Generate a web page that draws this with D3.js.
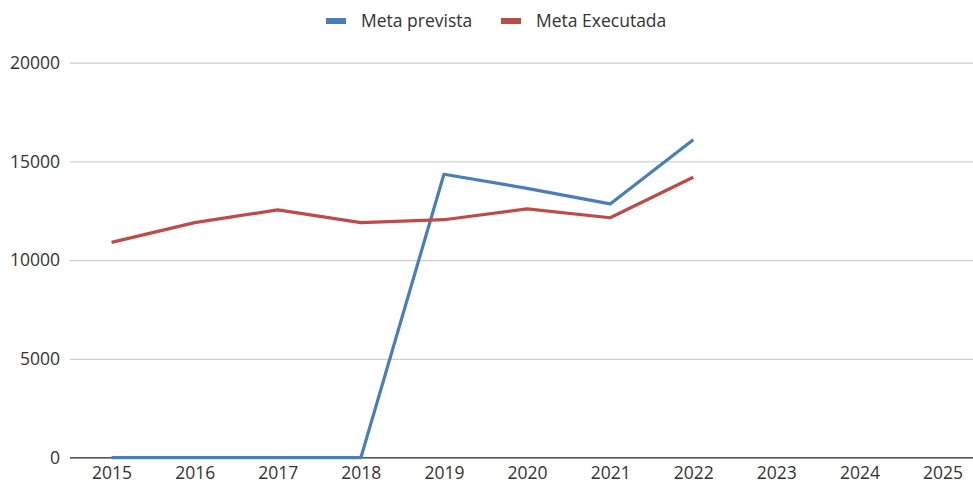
<!DOCTYPE html>
<html>
<head>
<meta charset="utf-8">
<script src="https://cdn.jsdelivr.net/npm/d3@7"></script>
<style>
  body { margin: 0; background: #fff; }
  text { font-family: "Open Sans", sans-serif; fill: #333; }
</style>
</head>
<body>
<svg id="chart" width="973" height="484"></svg>
<script>
// data
var years = ["2015","2016","2017","2018","2019","2020","2021","2022","2023","2024","2025"];
var metaPrevista = [0, 0, 0, 0, 14350, 13640, 12850, 16100];
var metaExecutada = [10900, 11900, 12550, 11900, 12050, 12600, 12150, 14200];
var yTicks = [0, 5000, 10000, 15000, 20000];
var seriesNames = ["Meta prevista", "Meta Executada"];
var seriesColors = ["#4a7ebb", "#be4b48"];

var svg = d3.select("#chart"),
    width = +svg.attr("width"),
    height = +svg.attr("height");
var margin = {left: 70, top: 62.7, bottom: 457.7};

var x = d3.scalePoint()
    .domain(years)
    .range([margin.left, margin.left + 11 * 83.1])
    .padding(0.5);

var y = d3.scaleLinear()
    .domain([0, 20000])
    .range([margin.bottom, margin.top]);

// gridlines + y labels
var yAxis = svg.append("g")
    .attr("transform", "translate(" + margin.left + ",0)")
    .call(d3.axisLeft(y).tickValues(yTicks).tickSize(-(width - margin.left)).tickPadding(10).tickFormat(d3.format("d")));
yAxis.select(".domain").remove();
yAxis.selectAll(".tick line").attr("stroke", "#cfcfcf").attr("stroke-width", 1.2);
yAxis.selectAll(".tick text").style("font-size", "17.5px").attr("fill", "#333");

// baseline
svg.append("line")
    .attr("x1", margin.left).attr("x2", width)
    .attr("y1", y(0)).attr("y2", y(0))
    .attr("stroke", "#555").attr("stroke-width", 1.5);

// x labels
var xAxis = svg.append("g")
    .attr("transform", "translate(0," + y(0) + ")")
    .call(d3.axisBottom(x).tickSize(0).tickPadding(9));
xAxis.select(".domain").remove();
xAxis.selectAll(".tick text").style("font-size", "17.5px").attr("fill", "#333");

var line = d3.line()
    .x(function(d, i) { return x(years[i]); })
    .y(function(d) { return y(d); });

[metaPrevista, metaExecutada].forEach(function(s, i) {
  svg.append("path")
    .datum(s)
    .attr("d", line)
    .attr("fill", "none")
    .attr("stroke", seriesColors[i])
    .attr("stroke-width", 3.2)
    .attr("stroke-linejoin", "round");
});

// legend
var legendX = [326, 501];
seriesNames.forEach(function(name, i) {
  svg.append("rect")
    .attr("x", legendX[i]).attr("y", 18)
    .attr("width", 20).attr("height", 6)
    .attr("fill", seriesColors[i]);
  svg.append("text")
    .attr("x", legendX[i] + 35).attr("y", 21)
    .attr("dy", "0.35em")
    .style("font-size", "17.5px")
    .text(name);
});
</script>
</body>
</html>
